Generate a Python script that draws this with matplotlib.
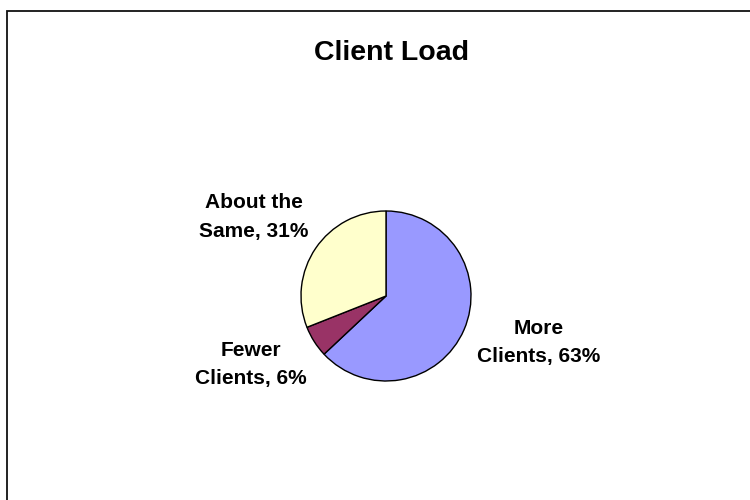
import matplotlib
matplotlib.use("Agg")
import matplotlib.pyplot as plt
from matplotlib.patches import Rectangle

title = "Client Load"
categories = ["More\nClients", "Fewer\nClients", "About the\nSame"]
shares = [63, 6, 31]
colors = ["#9999FF", "#993366", "#FFFFCC"]

# label anchor points (pixel space, origin bottom-left)
label_xy = [(539, 157.5), (251, 135.5), (254, 283)]

plt.rcParams["font.family"] = ["Liberation Sans", "DejaVu Sans"]

fig = plt.figure(figsize=(7.5, 5), dpi=100)
ax = fig.add_axes([0, 0, 1, 1])

# outer chart-area frame
ax.add_patch(Rectangle((7, -10), 760, 500 - 11 + 10, fill=False,
                       edgecolor="#111111", linewidth=1.3, zorder=1))

ax.pie(shares, colors=colors, startangle=90, counterclock=False,
       center=(386, 204), radius=85, frame=True,
       wedgeprops=dict(edgecolor="black", linewidth=1.0))
ax.set_xlim(0, 750)
ax.set_ylim(0, 500)
ax.set_aspect("auto")
ax.axis("off")

for cat, val, (x, y) in zip(categories, shares, label_xy):
    ax.text(x, y, f"{cat}, {val}%", ha="center", va="center",
            multialignment="center", fontsize=15, fontweight="bold",
            linespacing=1.62)

ax.text(392, 447.5, title, ha="center", va="center", fontsize=20.5,
        fontweight="bold")

fig.savefig("out.png", dpi=100)
